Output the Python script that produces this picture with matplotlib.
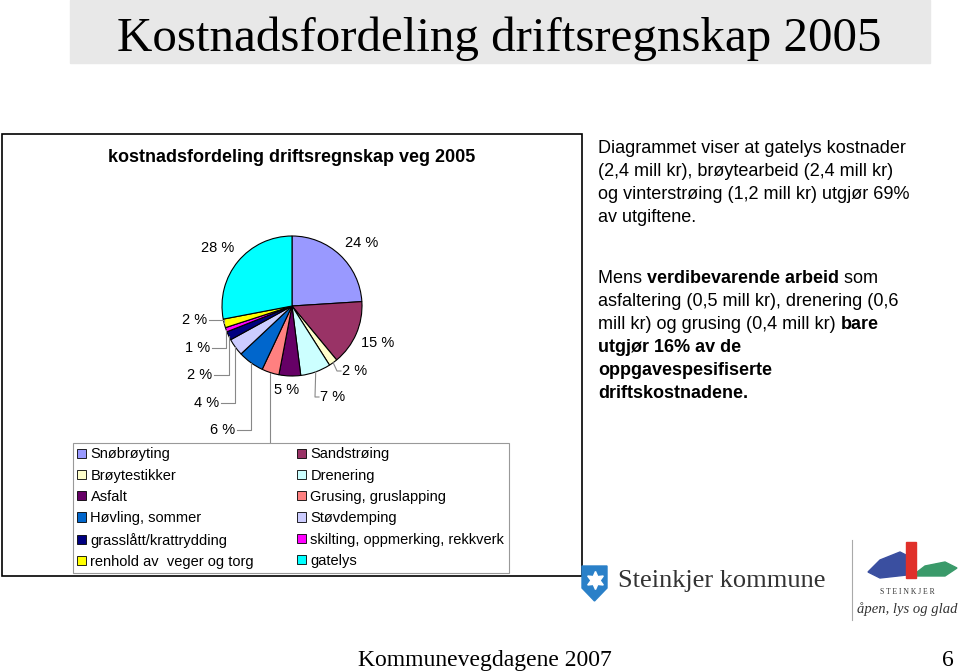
import matplotlib
matplotlib.use("Agg")
import matplotlib.pyplot as plt
from matplotlib.patches import Rectangle, Polygon, Patch
import numpy as np

# Data
categories = ["Snøbrøyting", "Sandstrøing", "Brøytestikker", "Drenering",
              "Asfalt", "Grusing, gruslapping", "Høvling, sommer", "Støvdemping",
              "grasslått/krattrydding", "skilting, oppmerking, rekkverk",
              "renhold av  veger og torg", "gatelys"]
shares = [24, 15, 2, 7, 5, 4, 6, 4, 2, 1, 2, 28]
colors = ["#9999FF", "#993366", "#FFFFCC", "#CCFFFF", "#660066", "#FF8080",
          "#0066CC", "#CCCCFF", "#000080", "#FF00FF", "#FFFF00", "#00FFFF"]

# label placement (pixels) and leader style per slice
label_px = [(362, 243), (378, 343), (355, 371), (333, 397), (287, 390), (266, 470),
            (223, 430), (207, 403), (200, 375), (198, 348), (195, 320), (218, 248)]
leader = [None, None, "right", "right", None, "down",
          "left", "left", "left", "left", "left", None]

SANS = "Liberation Sans"
SERIF = "Liberation Serif"

W, H = 960, 672
fig = plt.figure(figsize=(9.6, 6.72), dpi=100)

# background / overlay axes in pixel coordinates
ax0 = fig.add_axes([0, 0, 1, 1])
ax0.set_xlim(0, W)
ax0.set_ylim(H, 0)
ax0.axis("off")

# title banner
ax0.add_patch(Rectangle((70, 0), 860, 63, color="#e8e8e8", zorder=0))
ax0.text(499, 51, "Kostnadsfordeling driftsregnskap 2005", family=SERIF,
         fontsize=35.3, ha="center", va="baseline")

# chart box
ax0.add_patch(Rectangle((2, 134), 580, 442, fill=False, edgecolor="black", lw=1.2))
ax0.text(292, 158, "kostnadsfordeling driftsregnskap veg 2005", family=SANS,
         fontsize=13, fontweight="bold", ha="center", va="center")

# right-hand text
fig.canvas.draw()
rend = fig.canvas.get_renderer()


def rich_line(x, y, parts, size=13):
    for s, w in parts:
        t = ax0.text(x, y, s, family=SANS, fontsize=size, fontweight=w,
                     ha="left", va="baseline")
        x += t.get_window_extent(renderer=rend).width


para1 = ["Diagrammet viser at gatelys kostnader",
         "(2,4 mill kr), brøytearbeid (2,4 mill kr)",
         "og vinterstrøing (1,2 mill kr) utgjør 69%",
         "av utgiftene."]
for i, line in enumerate(para1):
    rich_line(598, 153 + i * 23, [(line, "normal")])

para2 = [[("Mens ", "normal"), ("verdibevarende arbeid", "bold"), (" som", "normal")],
         [("asfaltering (0,5 mill kr), drenering (0,6", "normal")],
         [("mill kr) og grusing (0,4 mill kr) ", "normal"), ("bare", "bold")],
         [("utgjør 16% av de", "bold")],
         [("oppgavespesifiserte", "bold")],
         [("driftskostnadene.", "bold")]]
for i, parts in enumerate(para2):
    rich_line(598, 283 + i * 23, parts)

# footer
ax0.text(485, 666, "Kommunevegdagene 2007", family=SERIF, fontsize=17,
         ha="center", va="baseline")
ax0.text(948, 666, "6", family=SERIF, fontsize=17, ha="center", va="baseline")

# logos (rough)
ax0.add_patch(Polygon([(582, 566), (607, 566), (607, 588), (594.5, 601), (582, 588)],
                      closed=True, color="#2a80c8"))
ax0.plot(594.5, 580, marker=(6, 1, 0), color="white", markersize=13)
ax0.text(618, 587, "Steinkjer kommune", family=SERIF, fontsize=19,
         ha="left", va="baseline", color="#333333")
ax0.plot([852, 852], [540, 620], color="#aaaaaa", lw=0.8)
ax0.add_patch(Polygon([(868, 572), (880, 560), (890, 556), (900, 552), (912, 558),
                       (916, 574), (880, 578)], closed=True, color="#3a4fa0"))
ax0.add_patch(Polygon([(912, 576), (925, 566), (945, 562), (957, 568), (945, 576)],
                      closed=True, color="#3a9a6a"))
ax0.add_patch(Rectangle((906, 542), 10, 36, color="#e0302a"))
ax0.text(907, 592, "S T E I N K J E R", family=SERIF, fontsize=5.5,
         ha="center", va="center", color="#333333")
ax0.text(907, 609, "åpen, lys og glad", family=SERIF, fontsize=10.5,
         style="italic", ha="center", va="center", color="#333333")

# pie axes: center (292, 306), radius 70 px
cx, cy, r = 292, 306, 70
axp = fig.add_axes([(cx - r) / W, (H - cy - r) / H, 2 * r / W, 2 * r / H])
wedges, _ = axp.pie(shares, colors=colors, startangle=90, counterclock=False,
                    radius=1, wedgeprops=dict(edgecolor="black", linewidth=0.8))
axp.set_xlim(-1, 1)
axp.set_ylim(-1, 1)
axp.axis("off")


def to_pie(px, py):
    return (px - cx) / r, (cy - py) / r


for w, val, (lx, ly), kind in zip(wedges, shares, label_px, leader):
    ang = np.deg2rad((w.theta1 + w.theta2) / 2)
    ex, ey = np.cos(ang), np.sin(ang)
    tx, ty = to_pie(lx, ly)
    axp.text(tx, ty, f"{val} %", family=SANS, fontsize=10.5, ha="center",
             va="center", clip_on=False)
    if kind == "left":
        sx = tx + 14 / r
        xs = [sx, max(ex, sx + 4 / r), ex]
        ys = [ty, ty, ey]
    elif kind == "right":
        sx = tx - 14 / r
        xs = [sx, sx - 4 / r, ex]
        ys = [ty, ty, ey]
    elif kind == "down":
        xs = [ex, ex]
        ys = [ey, ty]
    else:
        continue
    axp.plot(xs, ys, color="#888888", lw=0.8, clip_on=False)

# legend on top layer (covers the hidden label)
ax2 = fig.add_axes([0, 0, 1, 1])
ax2.set_xlim(0, W)
ax2.set_ylim(H, 0)
ax2.axis("off")
ax2.patch.set_alpha(0)
handles = [Patch(facecolor=c, edgecolor="black", linewidth=0.6) for c in colors]
order = list(range(0, 12, 2)) + list(range(1, 12, 2))
leg = ax2.legend([handles[i] for i in order], [categories[i] for i in order],
                 ncol=2, loc="upper left", bbox_to_anchor=(73, 443),
                 bbox_transform=ax2.transData, frameon=True, fancybox=False,
                 edgecolor="#999999", framealpha=1, borderaxespad=0,
                 prop=dict(family=SANS, size=10.5), handlelength=0.6,
                 handleheight=0.6, handletextpad=0.3, labelspacing=0.5,
                 columnspacing=2.95, borderpad=0.3)
leg.get_frame().set_linewidth(0.8)

fig.savefig("out.png", dpi=100)
